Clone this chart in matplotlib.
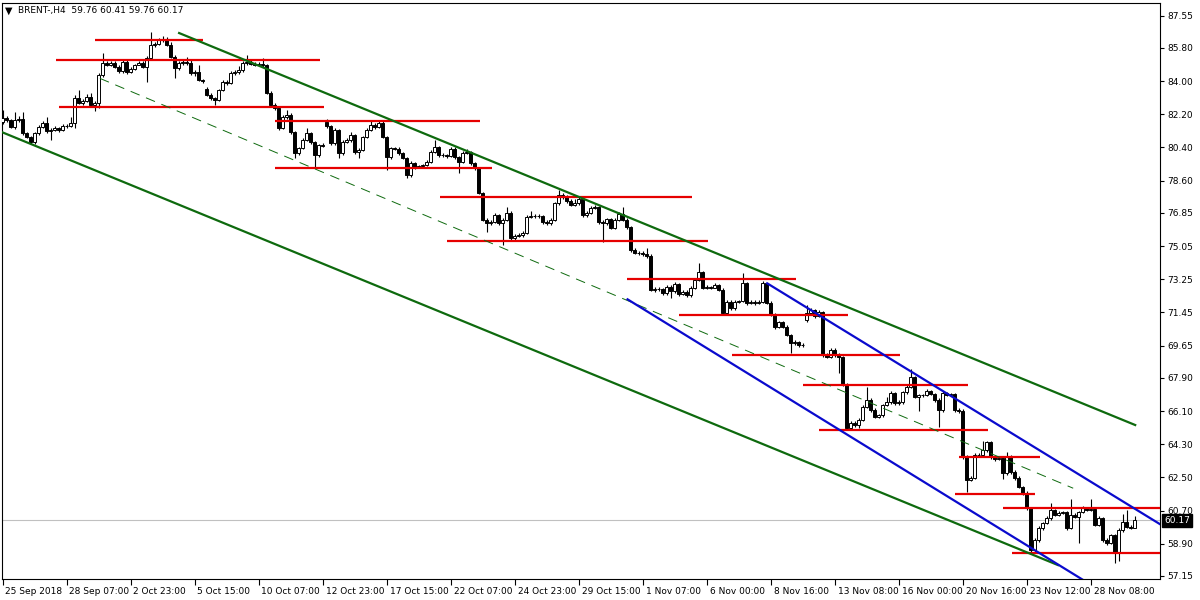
import numpy as np
import matplotlib.pyplot as plt
from matplotlib.transforms import blended_transform_factory, ScaledTranslation

# BRENT H4 candles (one entry per bar)
opens = [81.80, 82.00, 81.89, 81.51, 81.89, 81.95, 81.18, 80.97, 80.70, 81.18,
         81.51, 81.73, 81.29, 81.35, 81.45, 81.35, 81.56, 81.58, 81.73, 83.08,
         82.81, 82.92, 83.14, 82.70, 82.81, 84.33, 84.98, 84.88, 84.98, 84.77,
         84.55, 85.04, 84.50, 84.66, 84.88, 84.98, 84.77, 85.26, 85.96, 86.02,
         86.23, 86.25, 85.96, 85.31, 84.71, 84.98, 85.04, 84.98, 84.44, 84.50,
         84.06, 83.60, 83.25, 83.08, 82.97, 83.52, 83.95, 83.90, 84.44, 84.48,
         84.60, 84.98, 85.04, 84.93, 84.88, 84.93, 84.88, 83.36, 82.70, 82.54,
         81.45, 82.05, 82.16, 81.24, 80.10, 80.37, 80.80, 81.18, 80.70, 79.99,
         80.53, 81.80, 81.55, 80.64, 81.35, 80.10, 80.70, 80.80, 81.08, 80.15,
         80.26, 80.97, 81.35, 81.62, 81.51, 81.73, 80.97, 79.88, 80.37, 80.32,
         80.10, 79.83, 78.90, 79.56, 79.34, 79.39, 79.45, 79.61, 80.15, 80.42,
         79.99, 79.97, 79.94, 80.32, 79.88, 79.61, 80.10, 80.15, 79.56, 79.28,
         77.93, 76.46, 76.30, 76.35, 76.73, 76.30, 76.46, 76.84, 75.49, 75.60,
         75.65, 75.76, 76.63, 76.68, 76.66, 76.70, 76.35, 76.30, 76.46, 77.39,
         77.82, 77.71, 77.49, 77.28, 77.39, 77.60, 76.73, 76.84, 77.11, 77.17,
         76.35, 76.30, 76.52, 76.03, 76.46, 76.79, 76.46, 76.08, 74.84, 74.67,
         74.70, 74.62, 74.51, 72.67, 72.70, 72.72, 72.50, 72.83, 72.61, 72.99,
         72.45, 72.56, 72.39, 72.77, 73.21, 73.64, 72.77, 72.83, 72.80, 72.94,
         72.67, 71.42, 72.01, 71.69, 72.01, 72.07, 73.04, 71.96, 72.01, 71.96,
         72.01, 73.04, 71.96, 71.31, 70.66, 70.93, 70.66, 70.22, 69.79, 69.84,
         69.68, 71.04, 71.42, 71.58, 71.25, 71.47, 69.14, 69.03, 69.41, 69.14,
         69.03, 67.51, 65.18, 65.45, 65.34, 65.61, 66.32, 66.70, 66.15, 65.77,
         65.88, 66.43, 66.59, 67.08, 66.53, 66.59, 67.13, 67.40, 67.94, 66.86,
         66.97, 66.95, 67.18, 67.02, 66.70, 66.15, 67.08, 66.97, 67.02, 66.15,
         66.10, 63.60, 62.36, 62.46, 63.71, 63.69, 63.98, 64.42, 63.60, 63.50,
         63.55, 62.74, 63.60, 62.79, 62.46, 61.98, 61.65, 60.84, 58.56, 59.10,
         59.75, 60.02, 60.29, 60.73, 60.46, 60.57, 60.62, 59.75, 60.46, 60.35,
         60.62, 60.84, 60.73, 60.78, 59.92, 60.29, 59.10, 58.94, 59.37, 58.39,
         59.64, 60.08, 59.81, 59.76]
highs = [82.45, 82.10, 81.95, 82.30, 82.10, 82.35, 81.25, 81.05, 81.25, 81.60,
         81.85, 82.05, 81.45, 81.55, 81.50, 81.65, 81.65, 82.05, 83.25, 83.50,
         83.05, 83.30, 83.35, 82.90, 84.45, 85.53, 85.10, 85.10, 85.10, 84.85,
         85.15, 85.15, 84.75, 84.95, 85.10, 85.10, 85.35, 86.67, 86.15, 86.35,
         86.45, 86.40, 86.10, 85.40, 85.10, 85.15, 85.30, 85.20, 84.60, 84.90,
         84.10, 83.70, 83.35, 83.15, 83.60, 84.05, 84.05, 84.55, 84.60, 84.80,
         85.10, 85.40, 85.15, 85.05, 85.05, 85.25, 84.95, 83.45, 82.80, 82.60,
         82.15, 82.43, 82.25, 81.30, 80.45, 80.90, 81.45, 81.25, 80.75, 80.60,
         80.65, 81.95, 81.60, 81.45, 81.40, 80.80, 80.90, 81.25, 81.15, 80.35,
         81.05, 81.45, 81.90, 81.75, 81.85, 81.85, 81.05, 80.45, 80.45, 80.40,
         80.15, 79.90, 79.65, 79.60, 79.45, 79.50, 79.70, 80.25, 80.80, 80.50,
         80.10, 80.05, 80.45, 80.40, 79.95, 80.20, 80.30, 80.20, 79.60, 79.35,
         78.00, 76.55, 76.45, 76.85, 76.80, 76.55, 77.15, 76.95, 75.70, 75.75,
         75.85, 76.75, 76.95, 76.80, 76.80, 76.75, 76.45, 76.55, 77.45, 78.10,
         77.95, 77.80, 77.60, 77.60, 77.70, 77.70, 76.95, 77.20, 77.30, 77.25,
         76.45, 76.60, 76.60, 76.55, 76.90, 77.15, 76.55, 76.15, 74.95, 74.80,
         74.80, 74.95, 74.60, 72.85, 72.85, 72.80, 72.95, 72.95, 73.10, 73.05,
         72.65, 72.65, 72.90, 73.30, 74.13, 73.70, 72.95, 72.90, 73.05, 73.00,
         72.75, 72.10, 72.10, 72.10, 72.15, 73.60, 73.10, 72.10, 72.10, 72.10,
         73.15, 73.05, 72.05, 71.40, 71.00, 71.00, 70.75, 70.30, 69.95, 69.90,
         69.80, 71.85, 71.70, 71.65, 71.60, 71.55, 69.25, 69.50, 69.50, 69.25,
         69.10, 67.60, 65.55, 65.55, 65.70, 66.40, 67.40, 66.80, 66.25, 65.95,
         66.50, 66.85, 67.20, 67.15, 66.70, 67.20, 67.50, 68.40, 68.00, 67.05,
         67.05, 67.30, 67.25, 67.10, 66.80, 67.20, 67.15, 67.10, 67.10, 66.25,
         66.20, 63.70, 62.55, 63.80, 63.80, 64.45, 64.50, 64.50, 63.65, 63.65,
         63.65, 63.85, 63.70, 62.90, 62.55, 62.05, 61.75, 60.90, 59.20, 59.85,
         60.10, 60.40, 61.11, 60.80, 60.65, 60.70, 60.70, 61.35, 60.55, 60.70,
         60.95, 60.90, 61.35, 60.85, 60.40, 60.35, 59.20, 59.45, 59.45, 59.75,
         60.50, 60.75, 59.90, 60.41]
lows = [81.70, 81.80, 81.45, 81.40, 81.80, 81.10, 80.90, 80.60, 80.60, 81.10,
        81.45, 81.20, 80.80, 81.30, 81.25, 81.30, 81.45, 81.50, 81.45, 82.75,
        82.70, 82.85, 82.60, 82.40, 82.55, 84.25, 84.80, 84.80, 84.70, 84.45,
        84.45, 84.40, 84.45, 84.60, 84.85, 84.70, 83.95, 85.20, 85.85, 85.95,
        86.10, 85.90, 85.25, 84.17, 84.60, 84.90, 84.90, 84.35, 84.30, 84.00,
        83.90, 83.20, 83.00, 82.70, 82.90, 83.45, 83.80, 83.85, 84.35, 84.40,
        84.50, 84.90, 84.85, 84.80, 84.80, 84.75, 83.30, 82.60, 82.45, 81.35,
        81.40, 81.95, 81.15, 79.83, 80.00, 80.30, 80.75, 80.60, 79.34, 79.90,
        80.40, 81.45, 80.55, 80.55, 79.83, 80.00, 80.65, 80.70, 80.05, 79.83,
        80.20, 80.90, 81.30, 81.40, 81.45, 80.90, 79.18, 79.80, 80.25, 80.00,
        79.75, 78.74, 78.80, 79.25, 79.30, 79.30, 79.40, 79.55, 80.10, 79.90,
        79.90, 79.85, 79.90, 79.80, 79.01, 79.55, 80.05, 79.45, 79.20, 77.85,
        76.40, 75.81, 76.20, 76.30, 76.20, 75.10, 76.40, 75.40, 75.40, 75.55,
        75.55, 75.70, 76.55, 76.55, 76.60, 76.25, 76.20, 76.20, 76.40, 77.30,
        77.60, 77.40, 77.20, 77.20, 77.30, 76.65, 76.65, 76.80, 77.05, 76.25,
        75.27, 76.20, 75.95, 75.95, 76.40, 76.40, 76.00, 74.75, 74.60, 74.55,
        74.50, 74.40, 72.60, 72.55, 72.60, 72.40, 72.40, 72.23, 72.50, 72.35,
        72.40, 72.30, 72.30, 72.70, 73.15, 72.70, 72.70, 72.70, 72.75, 72.60,
        71.35, 71.35, 71.60, 71.60, 71.95, 72.00, 71.85, 71.90, 71.85, 71.90,
        71.95, 71.90, 71.25, 70.55, 70.60, 70.60, 70.15, 69.25, 69.70, 69.60,
        69.60, 70.95, 71.35, 71.15, 71.20, 69.05, 68.95, 68.95, 69.05, 68.16,
        67.45, 65.10, 65.05, 65.25, 65.20, 65.55, 66.25, 66.05, 65.70, 65.70,
        65.80, 66.35, 66.50, 66.45, 66.45, 66.50, 67.05, 67.35, 66.80, 66.10,
        66.85, 66.90, 66.95, 66.60, 65.23, 66.05, 66.90, 66.90, 66.05, 66.00,
        63.50, 61.70, 62.30, 62.40, 63.60, 63.60, 63.90, 63.50, 63.40, 63.45,
        62.40, 62.65, 62.70, 62.35, 61.90, 61.55, 60.75, 58.45, 58.45, 59.00,
        59.65, 59.95, 60.20, 60.40, 60.40, 60.50, 59.65, 59.70, 60.30, 58.94,
        60.55, 60.65, 60.70, 59.85, 59.85, 59.00, 58.85, 58.90, 57.85, 57.95,
        59.55, 59.75, 59.70, 59.76]
closes = [82.00, 81.89, 81.51, 81.89, 81.95, 81.18, 80.97, 80.70, 81.18, 81.51,
          81.73, 81.29, 81.35, 81.45, 81.35, 81.56, 81.58, 81.73, 83.08, 82.81,
          82.92, 83.14, 82.70, 82.81, 84.33, 84.98, 84.88, 84.98, 84.77, 84.55,
          85.04, 84.50, 84.66, 84.88, 84.98, 84.77, 85.26, 85.96, 86.02, 86.23,
          86.25, 85.96, 85.31, 84.71, 84.98, 85.04, 84.98, 84.44, 84.50, 84.06,
          84.01, 83.25, 83.08, 82.97, 83.52, 83.95, 83.90, 84.44, 84.48, 84.60,
          84.98, 85.04, 84.93, 84.88, 84.93, 84.88, 83.36, 82.70, 82.54, 81.45,
          82.05, 82.16, 81.24, 80.10, 80.37, 80.80, 81.18, 80.70, 79.99, 80.53,
          80.50, 81.55, 80.64, 81.35, 80.10, 80.70, 80.80, 81.08, 80.15, 80.26,
          80.97, 81.35, 81.62, 81.51, 81.73, 80.97, 79.88, 80.37, 80.32, 80.10,
          79.83, 78.90, 79.56, 79.34, 79.39, 79.45, 79.61, 80.15, 80.42, 79.99,
          79.97, 79.94, 80.32, 79.88, 79.61, 80.10, 80.15, 79.56, 79.28, 77.93,
          76.46, 76.30, 76.35, 76.73, 76.30, 76.46, 76.84, 75.49, 75.60, 75.65,
          75.76, 76.63, 76.68, 76.66, 76.70, 76.35, 76.30, 76.46, 77.39, 77.82,
          77.71, 77.49, 77.28, 77.39, 77.60, 76.73, 76.84, 77.11, 77.17, 76.35,
          76.30, 76.52, 76.03, 76.46, 76.79, 76.46, 76.08, 74.84, 74.67, 74.70,
          74.62, 74.51, 72.67, 72.70, 72.72, 72.50, 72.83, 72.61, 72.99, 72.45,
          72.56, 72.39, 72.77, 73.21, 73.64, 72.77, 72.83, 72.80, 72.94, 72.67,
          71.42, 72.01, 71.69, 72.01, 72.07, 73.04, 71.96, 72.01, 71.96, 72.01,
          73.04, 71.96, 71.31, 70.66, 70.93, 70.66, 70.22, 69.79, 69.84, 69.68,
          69.70, 71.42, 71.58, 71.25, 71.47, 69.14, 69.03, 69.41, 69.14, 69.03,
          67.51, 65.18, 65.45, 65.34, 65.61, 66.32, 66.70, 66.15, 65.77, 65.88,
          66.43, 66.59, 67.08, 66.53, 66.59, 67.13, 67.40, 67.94, 66.86, 66.97,
          66.95, 67.18, 67.02, 66.70, 66.15, 67.08, 66.97, 67.02, 66.15, 66.10,
          63.60, 62.36, 62.46, 63.71, 63.69, 63.98, 64.42, 63.60, 63.50, 63.55,
          62.74, 63.60, 62.79, 62.46, 61.98, 61.65, 60.84, 58.56, 59.10, 59.75,
          60.02, 60.29, 60.73, 60.46, 60.57, 60.62, 59.75, 60.46, 60.35, 60.62,
          60.84, 60.73, 60.78, 59.92, 60.29, 59.10, 58.94, 59.37, 58.39, 59.64,
          60.08, 59.81, 59.76, 60.17]

price_ticks = [87.55, 85.80, 84.00, 82.20, 80.40, 78.60, 76.85, 75.05, 73.25,
               71.45, 69.65, 67.90, 66.10, 64.30, 62.50, 60.70, 58.90, 57.15]
time_labels = ['25 Sep 2018', '28 Sep 07:00', '2 Oct 23:00', '5 Oct 15:00',
               '10 Oct 07:00', '12 Oct 23:00', '17 Oct 15:00', '22 Oct 07:00',
               '24 Oct 23:00', '29 Oct 15:00', '1 Nov 07:00', '6 Nov 00:00',
               '8 Nov 16:00', '13 Nov 08:00', '16 Nov 00:00', '20 Nov 16:00',
               '23 Nov 12:00', '28 Nov 08:00']
bars_per_label = 16
last_price = 60.17
header = 'BRENT-,H4  59.76 60.41 59.76 60.17'

# horizontal levels: (first bar, last bar, price)
red_levels = [(23.1, 50.1, 86.23), (13.3, 79.3, 85.15), (14.1, 80.3, 82.61),
              (68.1, 119.3, 81.84), (68.1, 122.3, 79.29), (109.3, 172.3, 77.71),
              (111.1, 176.3, 75.33), (156.1, 198.3, 73.26), (169.1, 211.3, 71.31),
              (182.3, 224.3, 69.14), (200.1, 241.3, 67.51), (204.1, 246.3, 65.07),
              (239.1, 259.3, 63.60), (238.1, 258.1, 61.60), (250.1, 290.0, 60.84),
              (252.3, 290.0, 58.41)]
# trend lines: (bar1, price1, bar2, price2)
green_lines = [(44.1, 86.61, 283.1, 65.34), (-0.5, 81.26, 263.8, 57.74)]
green_mid = (24.3, 84.15, 267.6, 61.91)
blue_lines = [(191.1, 73.03, 290.5, 59.80), (156.2, 72.16, 271.0, 56.81)]

plt.rcParams['font.family'] = 'DejaVu Sans'
plt.rcParams['lines.scale_dashes'] = False

fig = plt.figure(figsize=(12, 6), dpi=100)
fig.set_facecolor('white')
ax = fig.add_axes([2 / 1200, 21 / 600, 1158 / 1200, 576 / 600])

o = np.array(opens)
h = np.array(highs)
l = np.array(lows)
c = np.array(closes)
x = np.arange(len(c))
up = c >= o

# last price line under the candles
ax.axhline(last_price, color='#C0C0C0', linewidth=0.8, zorder=1)

ax.vlines(x, l, h, color='black', linewidth=0.8, zorder=2)
ax.bar(x, np.abs(c - o), bottom=np.minimum(o, c), width=0.72,
       color=np.where(up, 'white', 'black'), edgecolor='black',
       linewidth=0.7, zorder=3)

for x0, x1, p in red_levels:
    ax.plot([x0, x1], [p, p], color='#E60000', linewidth=1.6, zorder=4,
            solid_capstyle='butt')
for x0, p0, x1, p1 in green_lines:
    ax.plot([x0, x1], [p0, p1], color='#0E6A0E', linewidth=1.6, zorder=4)
ax.plot([green_mid[0], green_mid[2]], [green_mid[1], green_mid[3]],
        color='#0E6A0E', linewidth=0.7, dashes=(7, 5), zorder=4)
for x0, p0, x1, p1 in blue_lines:
    ax.plot([x0, x1], [p0, p1], color='#0A0ACD', linewidth=1.6, zorder=4)

ax.set_xlim(-0.175, 289.3)
ax.set_ylim(56.985, 88.24)

ax.yaxis.tick_right()
ax.set_yticks(price_ticks)
ax.set_yticklabels([f'{v:.2f}' for v in price_ticks])
ax.tick_params(axis='y', direction='out', length=3, width=0.8, pad=2,
               labelsize=6.5, colors='black')

ax.set_xticks(np.arange(len(time_labels)) * bars_per_label)
ax.set_xticklabels(time_labels, ha='left')
ax.tick_params(axis='x', direction='out', length=4, width=0.8, pad=2,
               labelsize=6.5, colors='black')
shift = ScaledTranslation(2 / 72, 0, fig.dpi_scale_trans)
for lab in ax.get_xticklabels():
    lab.set_transform(lab.get_transform() + shift)

for side in ['left', 'right', 'top', 'bottom']:
    ax.spines[side].set_linewidth(0.8)
    ax.spines[side].set_color('black')

# current price tag on the scale
trans = blended_transform_factory(ax.transAxes, ax.transData)
ax.text(1.0, last_price, f'{last_price:.2f}', transform=trans + ScaledTranslation(3 / 72, 0, fig.dpi_scale_trans),
        ha='left', va='center', fontsize=6.5, color='white', zorder=6,
        bbox=dict(boxstyle='square,pad=0.2', facecolor='black', edgecolor='black'))

fig.text(5 / 1200, 1 - 11 / 600, '\u25bc', fontsize=7, va='center', ha='left')
fig.text(18 / 1200, 1 - 11 / 600, header, fontsize=6.5, va='center', ha='left')

fig.savefig('out.png', dpi=100, facecolor='white')
